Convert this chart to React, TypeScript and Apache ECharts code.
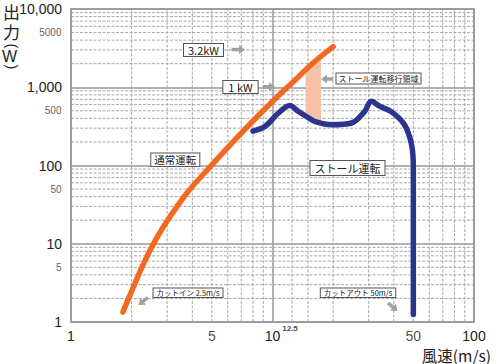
import React, { useEffect, useRef } from 'react';
import * as echarts from 'echarts';

// ---- data ----
const normalWind = [1.81, 2.03, 2.3, 2.61, 3.0, 3.76, 4.9, 6.37, 8.0, 10.06, 12.64, 15.89, 20.0];
const normalPower = [1.34, 2.72, 5.7, 10.8, 19.5, 44.5, 96, 200, 370, 667, 1167, 2040, 3300];

const stallWind = [8.0, 9.2, 10.7, 12.2, 13.4, 14.8, 16.2, 19.7, 24.7, 28.7, 30.9, 34.1, 39.0, 45.2, 49.0, 50.0, 50.0];
const stallPower = [275, 317, 469, 585, 493, 420, 367, 332, 349, 493, 661, 570, 485, 332, 184, 93, 1.25];

const bandWind = [14.6, 17.4];
const bandTop = [1617, 2405];
const bandBottom = [430, 345];

const xGridValues = [2, 3, 4, 5, 6, 7, 8, 9, 12.5, 15, 20, 30, 40, 50, 60, 70, 80, 90];
const yGridValues = [
  2, 3, 4, 5, 6, 7, 8, 9,
  20, 30, 40, 50, 60, 70, 80, 90,
  200, 300, 400, 500, 600, 700, 800, 900,
  2000, 3000, 4000, 5000, 6000, 7000, 8000, 9000,
];
const yMinorLabels = [5000, 500, 50, 5];
const xMinorLabels = [5, 50];
const xSpecialLabel = [12.5];

const X_MIN = 1, X_MAX = 100, Y_MIN = 1, Y_MAX = 10000;

const NUM_FONT = 'Liberation Sans, Arial, sans-serif';
const CJK_FONT = '"Noto Sans CJK JP", "Noto Sans", sans-serif';

function arrow(x1: number, y1: number, x2: number, y2: number) {
  const dx = x2 - x1, dy = y2 - y1;
  const len = Math.sqrt(dx * dx + dy * dy);
  const ux = dx / len, uy = dy / len;
  const px = -uy, py = ux;
  const headLen = 6, headW = 4.5, shaftW = 1.7;
  const bx = x2 - ux * headLen, by = y2 - uy * headLen;
  const pts = [
    [x1 + px * shaftW, y1 + py * shaftW],
    [bx + px * shaftW, by + py * shaftW],
    [bx + px * headW, by + py * headW],
    [x2, y2],
    [bx - px * headW, by - py * headW],
    [bx - px * shaftW, by - py * shaftW],
    [x1 - px * shaftW, y1 - py * shaftW],
  ];
  return { type: 'polygon', shape: { points: pts }, style: { fill: '#a0a0a0' }, z: 100 };
}

function box(text: string, cx: number, cy: number, fontSize: number, padding: number[]) {
  return {
    type: 'text',
    x: cx,
    y: cy,
    z: 100,
    style: {
      text,
      align: 'center',
      verticalAlign: 'middle',
      fontSize,
      fontFamily: CJK_FONT,
      fill: '#222',
      backgroundColor: '#fff',
      borderColor: '#555',
      borderWidth: 1,
      padding,
    },
  };
}

function gridLineSeries(values: number[], vertical: boolean) {
  return {
    type: 'custom',
    coordinateSystem: 'cartesian2d',
    silent: true,
    z: 1,
    data: values.map((v) => (vertical ? [v, Y_MIN] : [X_MIN, v])),
    renderItem: (_p: any, api: any) => {
      const v = vertical ? api.value(0) : api.value(1);
      const a = vertical ? api.coord([v, Y_MIN]) : api.coord([X_MIN, v]);
      const b = vertical ? api.coord([v, Y_MAX]) : api.coord([X_MAX, v]);
      return {
        type: 'line',
        shape: { x1: a[0], y1: a[1], x2: b[0], y2: b[1] },
        style: { stroke: '#a8a8a8', lineWidth: 1, lineDash: [3, 1.5] },
      };
    },
  };
}

export default function App() {
  const ref = useRef<HTMLDivElement>(null);
  useEffect(() => {
    if (!ref.current) return;
    const chart = echarts.init(ref.current, null, { renderer: 'svg' });
    const option: any = {
      animation: false,
      backgroundColor: '#fff',
      grid: {
        left: 71, top: 9, right: 26, bottom: 42,
        show: true, borderColor: '#8a8a8a', borderWidth: 1.5,
      },
      xAxis: {
        type: 'log', logBase: 10, min: X_MIN, max: X_MAX,
        axisLine: { show: false },
        axisTick: { show: false },
        splitLine: { show: true, lineStyle: { color: '#999', width: 1.5 } },
        axisLabel: { fontSize: 14, color: '#222', fontFamily: NUM_FONT, margin: 7 },
      },
      yAxis: {
        type: 'log', logBase: 10, min: Y_MIN, max: Y_MAX,
        axisLine: { show: false },
        axisTick: { show: false },
        splitLine: { show: true, lineStyle: { color: '#999', width: 1.5 } },
        axisLabel: {
          fontSize: 14, color: '#222', fontFamily: NUM_FONT, margin: 9,
          formatter: (v: number) => Math.round(v).toLocaleString('en-US'),
        },
      },
      series: [
        gridLineSeries(xGridValues, true),
        gridLineSeries(yGridValues, false),
        {
          type: 'custom',
          coordinateSystem: 'cartesian2d',
          silent: true,
          z: 2,
          data: [[bandWind[0], bandBottom[0]]],
          renderItem: (_p: any, api: any) => {
            const pts = [
              api.coord([bandWind[0], bandBottom[0]]),
              api.coord([bandWind[0], bandTop[0]]),
              api.coord([bandWind[1], bandTop[1]]),
              api.coord([bandWind[1], bandBottom[1]]),
            ];
            return { type: 'polygon', shape: { points: pts }, style: { fill: '#f8c2a8' } };
          },
        },
        {
          type: 'line',
          name: '通常運転',
          z: 5,
          data: normalWind.map((x, i) => [x, normalPower[i]]),
          smooth: 0.3,
          showSymbol: false,
          lineStyle: { color: '#f26a22', width: 5.5, cap: 'round' },
        },
        {
          type: 'line',
          name: 'ストール運転',
          z: 5,
          data: stallWind.map((x, i) => [x, stallPower[i]]),
          smooth: 0.35,
          showSymbol: false,
          lineStyle: { color: '#2b3590', width: 5.5, cap: 'round', join: 'round' },
        },
        {
          type: 'scatter',
          silent: true,
          symbolSize: 1,
          itemStyle: { color: 'transparent' },
          data: yMinorLabels.map((v) => [X_MIN, v]),
          label: {
            show: true, position: 'left', distance: 9,
            formatter: (p: any) => String(p.value[1]),
            fontSize: 10, color: '#333', fontFamily: NUM_FONT,
          },
        },
        {
          type: 'scatter',
          silent: true,
          symbolSize: 1,
          itemStyle: { color: 'transparent' },
          data: xMinorLabels.map((v) => [v, Y_MIN]),
          label: {
            show: true, position: 'bottom', distance: 6.5,
            formatter: (p: any) => String(p.value[0]),
            fontSize: 14, color: '#222', fontFamily: NUM_FONT,
          },
        },
        {
          type: 'scatter',
          silent: true,
          symbolSize: 1,
          itemStyle: { color: 'transparent' },
          data: xSpecialLabel.map((v) => [v, Y_MIN]),
          label: {
            show: true, position: 'bottom', distance: 1.5, offset: [-2, 0],
            formatter: (p: any) => String(p.value[0]),
            fontSize: 8, fontWeight: 'bold', color: '#111', fontFamily: NUM_FONT,
          },
        },
      ],
      graphic: [
        { type: 'text', x: 11.5, y: 21.5, style: { text: '出\n力', fontSize: 17, lineHeight: 19.5, fontFamily: CJK_FONT, fill: '#222', align: 'center', verticalAlign: 'middle' } },
        { type: 'text', x: 10, y: 46, rotation: Math.PI / 2, style: { text: ')', fontSize: 14, fontFamily: NUM_FONT, fill: '#222', align: 'center', verticalAlign: 'middle' } },
        { type: 'text', x: 9.5, y: 56, style: { text: 'W', fontSize: 16, fontFamily: NUM_FONT, fill: '#222', align: 'center', verticalAlign: 'middle' } },
        { type: 'text', x: 10, y: 67, rotation: Math.PI / 2, style: { text: '(', fontSize: 14, fontFamily: NUM_FONT, fill: '#222', align: 'center', verticalAlign: 'middle' } },
        { type: 'text', x: 491, y: 354.5, style: { text: '風速(m/s)', fontSize: 15.5, fontFamily: CJK_FONT, fill: '#222', align: 'right', verticalAlign: 'middle' } },
        box('3.2kW', 203.5, 50, 11, [1, 4, 0, 4]),
        arrow(231.5, 49.5, 245, 49.5),
        box('1 kW', 240.5, 87, 11, [1, 5, 0, 5]),
        arrow(262.5, 86.7, 275, 86.7),
        box('ストール運転移行領域', 378.5, 78.5, 8, [1, 2, 1, 2]),
        arrow(333, 79, 321, 79),
        box('通常運転', 175.3, 159.7, 10.5, [1, 3, 1, 3]),
        box('ストール運転', 347.5, 168, 11, [2, 4, 1, 4]),
        box('カットイン 2.5m/s', 188, 292.8, 7.5, [1, 3, 0, 3]),
        arrow(148, 297.5, 138.5, 305),
        box('カットアウト 50m/s', 358, 292.7, 7.5, [1, 3, 0, 3]),
        arrow(388, 303, 397.5, 311),
      ],
    };
    chart.setOption(option);
    return () => chart.dispose();
  }, []);
  return (
    <div
      ref={ref}
      style={{ position: 'absolute', left: 0, top: 0, width: 500, height: 364 }}
    />
  );
}
